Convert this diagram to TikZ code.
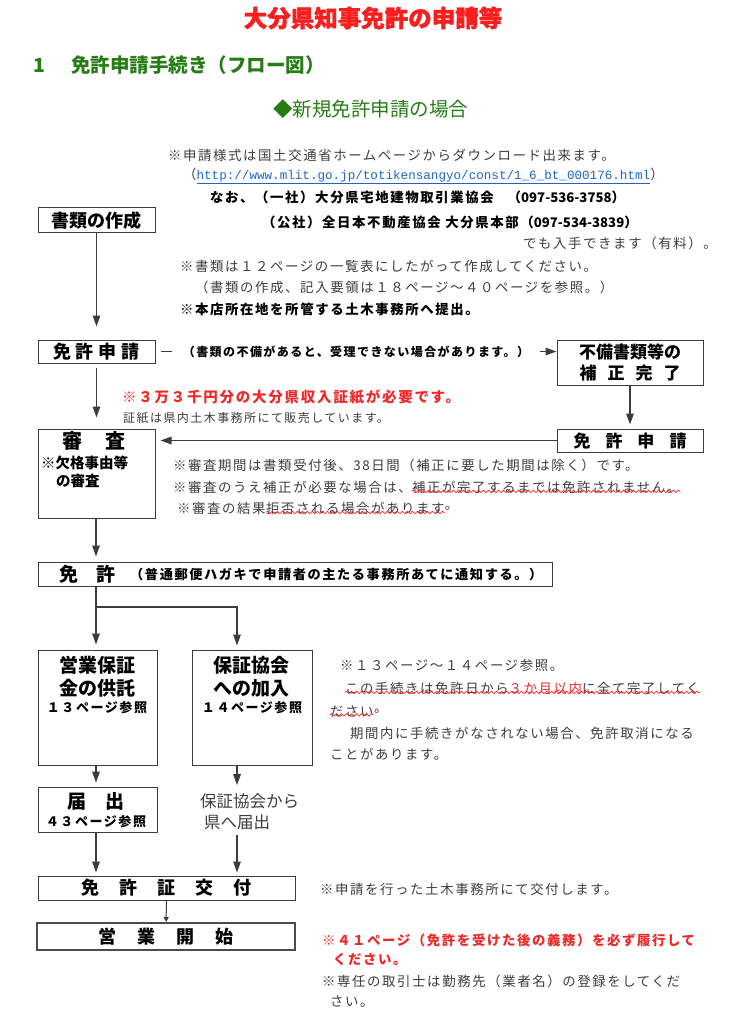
\documentclass[tikz,border=0pt]{standalone}
\usepackage{fontspec}
\setmainfont{Noto Sans CJK JP}
\newfontfamily\jpls[LetterSpace=12]{Noto Sans CJK JP}
\newfontfamily\telfont{Noto Sans CJK JP}
\newfontfamily\heavyfont{Noto Sans CJK JP}[BoldFeatures={FakeBold=1.6}]
\newfontfamily\urlfont{Liberation Mono}
\usetikzlibrary{positioning,calc}
\usetikzlibrary{arrows.meta,decorations.pathmorphing}
\definecolor{TitleRed}{RGB}{250,30,30}
\definecolor{NoteRed}{RGB}{240,40,40}
\definecolor{FlowGreen}{RGB}{38,125,22}
\definecolor{LinkBlue}{RGB}{30,100,200}
\definecolor{InkGray}{RGB}{60,60,60}
\newcommand\telno[1]{{\telfont\bfseries\fontsize{13.2}{15}\selectfont #1}}
\tikzset{
  flowbox/.style={draw=InkGray,line width=1pt,fill=white,inner sep=0pt},
  boxlab/.style={inner sep=0pt,text=black,font=\bfseries\fontsize{18}{20}\selectfont},
  note/.style={anchor=west,inner sep=0pt,text=InkGray,font=\jpls\fontsize{13.4}{15}\selectfont},
  boldnote/.style={note,text=black,font=\jpls\bfseries\fontsize{13.4}{15}\selectfont},
  flow/.style={draw=InkGray,line width=1.4pt,-{Triangle[length=11pt,width=7.5pt]}},
  wavy/.style={draw=red!85,line width=0.7pt,decorate,decoration={snake,amplitude=1.2pt,segment length=5pt}},
}
\tikzset{smalllab/.style={inner sep=0pt,text=black,font=\jpls\bfseries\fontsize{13}{15}\selectfont}}

\begin{document}
\begin{tikzpicture}[x=1pt,y=-1pt]
\useasboundingbox (0,0) rectangle (747,1024);
\coordinate (colL) at (96,0);
\coordinate (colR) at (237,0);
\coordinate (fork) at (96,607);
% headings
\node[inner sep=0pt,text=TitleRed,font=\heavyfont\bfseries\fontsize{23.5}{26}\selectfont] (title) at (373,18) {大分県知事免許の申請等};
\node[anchor=west,inner sep=0pt,text=FlowGreen,font=\bfseries\fontsize{19.5}{22}\selectfont] (sec) at (33,65) {1\hspace{26pt}免許申請手続き（フロー図）};
\node[anchor=west,inner sep=0pt,text=FlowGreen,font=\fontsize{19.5}{22}\selectfont] (case) at (273,109) {◆新規免許申請の場合};
% boxes
\node[flowbox,boxlab,minimum width=117pt,minimum height=25pt] (docs) at (96.5,220.5) {書類の作成};
\node[flowbox,boxlab,minimum width=117pt,minimum height=23pt] (apply) at (96.5,351.5) {免\hspace{5pt}許\hspace{5pt}申\hspace{5pt}請};
\node[flowbox,boxlab,font=\bfseries\fontsize{17}{21}\selectfont,align=center,minimum width=146pt,minimum height=45pt] (fix) at (630,362.5) {不備書類等の\\補\hspace{11pt}正\hspace{11pt}完\hspace{11pt}了};
\node[flowbox,minimum width=117pt,minimum height=89pt] (review) at (96.5,473.5) {};
\node[flowbox,boxlab,font=\bfseries\fontsize{17}{20}\selectfont,minimum width=146pt,minimum height=23pt] (reapply) at (630,440.5) {免\hspace{15pt}許\hspace{15pt}申\hspace{15pt}請};
\node[flowbox,minimum width=514pt,minimum height=24pt] (permit) at (295,574) {};
\node[flowbox,minimum width=119pt,minimum height=115pt] (deposit) at (97.5,707.5) {};
\node[flowbox,minimum width=120pt,minimum height=115pt] (join) at (252,707.5) {};
\node[flowbox,minimum width=119pt,minimum height=45pt] (notify) at (97.5,809.5) {};
\node[flowbox,boxlab,minimum width=257pt,minimum height=24pt] (issue) at (166.5,888) {免\hspace{20pt}許\hspace{20pt}証\hspace{20pt}交\hspace{20pt}付};
\node[flowbox,boxlab,line width=2pt,draw=black!70,minimum width=258pt,minimum height=27pt] (start) at (166,936.5) {営\hspace{21pt}業\hspace{21pt}開\hspace{21pt}始};
% box texts
\node[boxlab,font=\bfseries\fontsize{20}{22}\selectfont] (reviewT) at (93.5,441) {審\hspace{23pt}査};
\node[boxlab,anchor=west,font=\bfseries\fontsize{14.5}{16}\selectfont] (reviewA) at (41,463) {※欠格事由等};
\node[boxlab,anchor=west,font=\bfseries\fontsize{14.5}{16}\selectfont] (reviewB) at (56,481) {の審査};
\node[boxlab,anchor=west,font=\bfseries\fontsize{19}{21}\selectfont] (permitT) at (59,574) {免\hspace{18pt}許};
\node[boxlab,anchor=west,font=\jpls\bfseries\fontsize{13.2}{15}\selectfont] (permitN) at (130,574) {（普通郵便ハガキで申請者の主たる事務所あてに通知する。）};
\node[boxlab,font=\bfseries\fontsize{19}{21}\selectfont] (depositA) at (97,665) {営業保証};
\node[boxlab,font=\bfseries\fontsize{19}{21}\selectfont] (depositB) at (97,688) {金の供託};
\node[smalllab] (depositC) at (97,708) {１３ページ参照};
\node[boxlab,font=\bfseries\fontsize{19}{21}\selectfont] (joinA) at (251,665) {保証協会};
\node[boxlab,font=\bfseries\fontsize{19}{21}\selectfont] (joinB) at (251,688) {への加入};
\node[smalllab] (joinC) at (252,708) {１４ページ参照};
\node[boxlab,font=\bfseries\fontsize{19}{21}\selectfont] (notifyA) at (96,801) {届\hspace{20pt}出};
\node[smalllab] (notifyB) at (96,822) {４３ページ参照};
\node[note,font=\fontsize{16.5}{18}\selectfont] (via1) at (200,801) {保証協会から};
\node[note,font=\fontsize{16.5}{18}\selectfont] (via2) at (204,822) {県へ届出};
% notes
\node[note] (n1) at (168,155) {※申請様式は国土交通省ホームページからダウンロード出来ます。};
\node[note] (n2) at (183,176) {（{\urlfont\fontsize{12.6}{15}\selectfont\color{LinkBlue}\underline{http://www.mlit.go.jp/totikensangyo/const/1\_6\_bt\_000176.html}}）};
\node[boldnote] (n3) at (210,197) {なお、（一社）大分県宅地建物取引業協会\hspace{14pt}（\telno{097-536-3758}）};
\node[boldnote] (n4) at (262,222) {（公社）全日本不動産協会 大分県本部（\telno{097-534-3839}）};
\node[note] (n5) at (523,243) {でも入手できます（有料）。};
\node[note] (n6) at (180,266) {※書類は１２ページの一覧表にしたがって作成してください。};
\node[note] (n7) at (195,287) {（書類の作成、記入要領は１８ページ～４０ページを参照。）};
\node[boldnote] (n8) at (180,309) {※本店所在地を所管する土木事務所へ提出。};
\node[note,text=NoteRed,font=\jpls\bfseries\fontsize{14.5}{16}\selectfont] (stamp) at (122,397) {※３万３千円分の大分県収入証紙が必要です。};
\node[note,font=\jpls\fontsize{12}{14}\selectfont] (stampN) at (123,418) {証紙は県内土木事務所にて販売しています。};
\node[note] (r1) at (173,465) {※審査期間は書類受付後、38日間（補正に要した期間は除く）です。};
\node[note] (r2a) at (173,487) {※審査のうえ補正が必要な場合は、};
\node[note] (r2b) at (r2a.east) {補正が完了するまでは免許されません。};
\node[note] (r3a) at (177,508) {※審査の結果};
\node[note] (r3b) at (r3a.east) {拒否される場合があります};
\node[note] (r3c) at (r3b.east) {。};
\node[note] (g1) at (340,665) {※１３ページ～１４ページ参照。};
\node[note] (g2) at (345,688) {この手続きは免許日から{\color{NoteRed}３か月以内}に全て完了してく};
\node[note] (g3a) at (330,711) {ださい};
\node[note] (g3b) at (g3a.east) {。};
\node[note] (g4) at (350,733) {期間内に手続きがなされない場合、免許取消になる};
\node[note] (g5) at (330,754) {ことがあります。};
\node[note] (e1) at (320,889) {※申請を行った土木事務所にて交付します。};
\node[note,text=NoteRed,font=\jpls\bfseries\fontsize{13.4}{15}\selectfont] (e2) at (322,940) {※４１ページ（免許を受けた後の義務）を必ず履行して};
\node[note,text=NoteRed,font=\jpls\bfseries\fontsize{13.4}{15}\selectfont] (e3) at (333,960) {ください。};
\node[note] (e4) at (322,981) {※専任の取引士は勤務先（業者名）の登録をしてくだ};
\node[note] (e5) at (330,1002) {さい。};
% wavy underlines
\draw[wavy] ([yshift=2pt]r2b.south west) -- ([yshift=2pt]r2b.south east);
\draw[wavy] ([yshift=2pt]r3b.south west) -- ([yshift=2pt]r3b.south east);
\draw[wavy] ([yshift=2pt]g2.south west) -- ([yshift=2pt]g2.south east);
\draw[wavy] ([yshift=2pt]g3a.south west) -- ([yshift=2pt]g3a.south east);
% connectors
\draw[flow,shorten >=13pt] (docs) -- (apply);
\draw[flow,shorten <=4pt,shorten >=11pt] (apply) -- (review);
\draw[flow,shorten <=5pt] (apply.east) -- (apply.east -| fix.west)
  node[midway,fill=white,inner xsep=11pt,inner ysep=2pt,text=black,font=\jpls\bfseries\fontsize{12}{14}\selectfont] (defect) {（書類の不備があると、受理できない場合があります。）};
\draw[flow,shorten >=4pt] (fix) -- (reapply);
\draw[flow,shorten >=5pt] (reapply.west) -- (reapply.west -| review.east);
\draw[flow,shorten >=5pt] (colL |- review.south) -- (colL |- permit.north);
\draw[flow,shorten >=5pt] (colL |- permit.south) -- (colL |- deposit.north);
\draw[flow,shorten >=4pt] (fork) -| (colR |- join.north);
\draw[flow,shorten >=4pt] (colL |- deposit.south) -- (colL |- notify.north);
\draw[flow,shorten >=8pt] (colR |- join.south) -- (colR |- via1.north);
\draw[flow,shorten >=3pt] (colL |- notify.south) -- (colL |- issue.north);
\draw[flow,shorten <=5pt,shorten >=3pt] (colR |- via2.south) -- (colR |- issue.north);
\draw[draw=InkGray,line width=1pt,-{Triangle[length=5pt,width=5pt]}] (issue) -- (start);
\end{tikzpicture}
\end{document}
